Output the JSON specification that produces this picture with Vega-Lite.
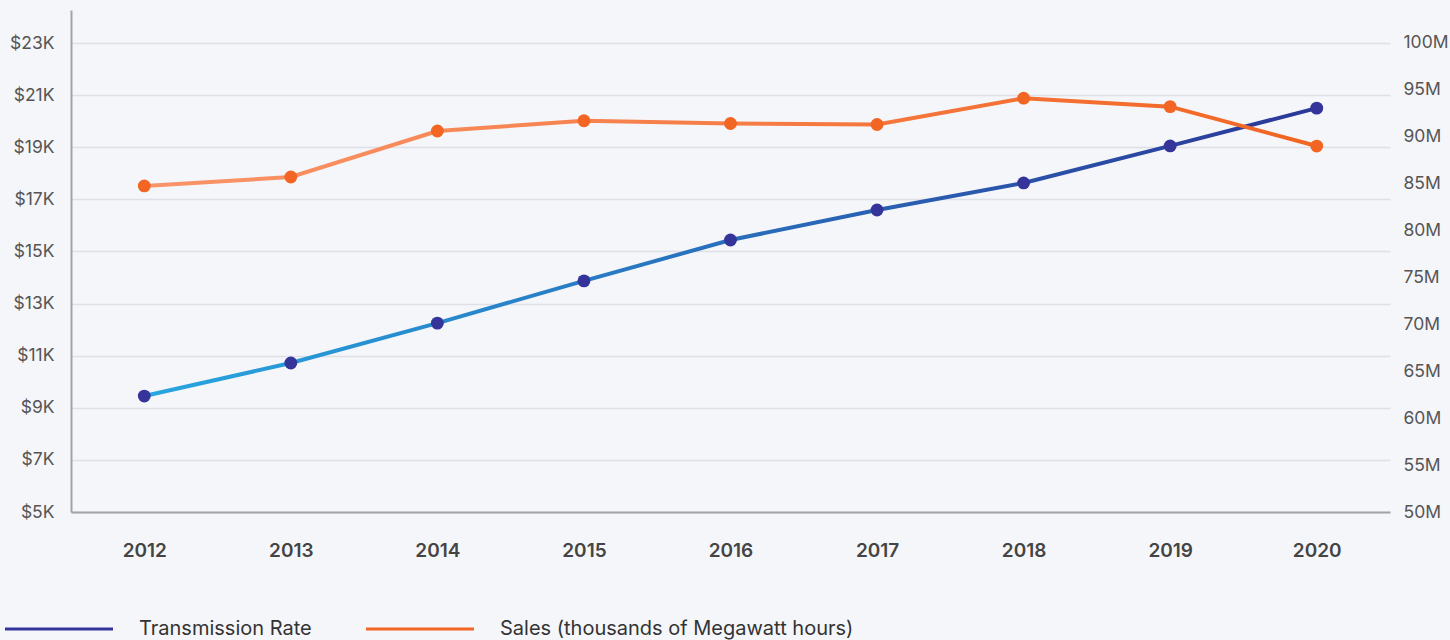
{
  "$schema": "https://vega.github.io/schema/vega-lite/v6.json",
  "width": 1319,
  "height": 502,
  "autosize": {"type": "none"},
  "padding": {"left": 71, "top": 10, "right": 60, "bottom": 128},
  "background": "#f5f6fa",
  "config": {
    "view": {"stroke": null},
    "font": "Inter",
    "legend": {
      "orient": "none",
      "legendX": -66,
      "legendY": 565,
      "direction": "horizontal",
      "symbolType": "M-1,-0.03L1,-0.03L1,0.03L-1,0.03Z",
      "symbolSize": 11664,
      "symbolStrokeWidth": 0,
      "labelFontSize": 20,
      "labelColor": "#333333",
      "labelOffset": 26,
      "columnPadding": 54,
      "labelLimit": 600
    }
  },
  "data": {
    "values": [
      {"year": "2012", "rate": 9450, "sales": 84750000},
      {"year": "2013", "rate": 10720, "sales": 85700000},
      {"year": "2014", "rate": 12250, "sales": 90600000},
      {"year": "2015", "rate": 13870, "sales": 91700000},
      {"year": "2016", "rate": 15440, "sales": 91400000},
      {"year": "2017", "rate": 16590, "sales": 91300000},
      {"year": "2018", "rate": 17630, "sales": 94100000},
      {"year": "2019", "rate": 19050, "sales": 93200000},
      {"year": "2020", "rate": 20500, "sales": 89000000}
    ]
  },
  "encoding": {
    "x": {
      "field": "year",
      "type": "ordinal",
      "axis": {
        "title": null,
        "labelAngle": 0,
        "ticks": false,
        "grid": false,
        "domainColor": "#a3a3a3",
        "domainWidth": 2,
        "labelFontSize": 19,
        "labelFontWeight": 600,
        "labelColor": "#444444",
        "labelPadding": 29
      }
    }
  },
  "layer": [
    {
      "layer": [
        {
          "mark": {
            "type": "line",
            "strokeWidth": 4,
            "color": {
              "gradient": "linear",
              "x1": 0, "y1": 0, "x2": 1, "y2": 0,
              "stops": [
                {"offset": 0, "color": "#27a6df"},
                {"offset": 1, "color": "#2b3797"}
              ]
            }
          },
          "encoding": {
            "y": {
              "field": "rate",
              "type": "quantitative",
              "scale": {"domain": [5000, 24267], "nice": false, "zero": false},
              "axis": {
                "title": null,
                "values": [5000, 7000, 9000, 11000, 13000, 15000, 17000, 19000, 21000, 23000],
                "labelExpr": "'$' + datum.value / 1000 + 'K'",
                "ticks": false,
                "domainColor": "#a3a3a3",
                "domainWidth": 2,
                "labelFontSize": 17.5,
                "labelColor": "#555555",
                "labelPadding": 17,
                "gridColor": "#dfe0e5",
                "gridWidth": 1.5
              }
            }
          }
        },
        {
          "mark": {"type": "point", "filled": true, "size": 165, "opacity": 1},
          "encoding": {
            "y": {"field": "rate", "type": "quantitative"},
            "color": {
              "datum": "Transmission Rate",
              "scale": {
                "domain": ["Transmission Rate", "Sales (thousands of Megawatt hours)"],
                "range": ["#34349a", "#f26522"]
              },
              "legend": {
                "title": null,
                "encode": {
                  "symbols": {
                    "update": {
                      "opacity": {"value": 1}
                    }
                  }
                }
              }
            }
          }
        }
      ]
    },
    {
      "layer": [
        {
          "mark": {
            "type": "line",
            "strokeWidth": 4,
            "color": {
              "gradient": "linear",
              "x1": 0, "y1": 0, "x2": 1, "y2": 0,
              "stops": [
                {"offset": 0, "color": "#f9956a"},
                {"offset": 1, "color": "#f26522"}
              ]
            }
          },
          "encoding": {
            "y": {
              "field": "sales",
              "type": "quantitative",
              "scale": {"domain": [50000000, 103500000], "nice": false, "zero": false},
              "axis": {
                "title": null,
                "orient": "right",
                "values": [50000000, 55000000, 60000000, 65000000, 70000000, 75000000, 80000000, 85000000, 90000000, 95000000, 100000000],
                "labelExpr": "datum.value / 1000000 + 'M'",
                "ticks": false,
                "domain": false,
                "grid": false,
                "labelFontSize": 17.5,
                "labelColor": "#555555",
                "labelPadding": 13
              }
            }
          }
        },
        {
          "mark": {"type": "point", "filled": true, "size": 165, "opacity": 1},
          "encoding": {
            "y": {"field": "sales", "type": "quantitative"},
            "color": {"datum": "Sales (thousands of Megawatt hours)"}
          }
        }
      ]
    }
  ],
  "resolve": {"scale": {"y": "independent"}}
}
